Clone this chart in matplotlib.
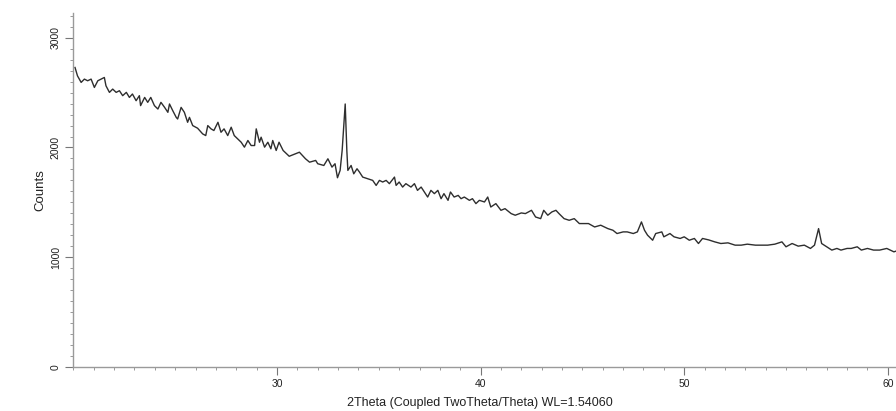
import matplotlib
matplotlib.use("Agg")
import matplotlib.pyplot as plt
from matplotlib.ticker import MultipleLocator

plt.rcParams['font.family'] = ['Liberation Sans', 'DejaVu Sans']

two_theta = [20.08, 20.2, 20.38, 20.54, 20.7, 20.87, 21.03, 21.2, 21.36, 21.52, 21.6, 21.77, 21.93,
             22.1, 22.26, 22.42, 22.6, 22.75, 22.9, 23.08, 23.24, 23.3, 23.5, 23.65, 23.8, 23.98,
             24.15, 24.3, 24.48, 24.64, 24.72, 24.88, 25.05, 25.12, 25.29, 25.45, 25.61, 25.7,
             25.86, 26.1, 26.35, 26.5, 26.6, 26.76, 26.9, 27.1, 27.25, 27.4, 27.58, 27.75, 27.9,
             28.07, 28.24, 28.4, 28.57, 28.73, 28.9, 28.98, 29.14, 29.22, 29.39, 29.55, 29.7,
             29.79, 29.96, 30.1, 30.3, 30.6, 30.9, 31.1, 31.4, 31.6, 31.9, 32.0, 32.3, 32.5, 32.7,
             32.85, 32.97, 33.1, 33.2, 33.35, 33.43, 33.48, 33.64, 33.77, 33.93, 34.05, 34.21,
             34.46, 34.7, 34.87, 35.03, 35.19, 35.36, 35.52, 35.77, 35.85, 36.0, 36.17, 36.33,
             36.58, 36.75, 36.9, 37.08, 37.24, 37.4, 37.56, 37.73, 37.9, 38.06, 38.2, 38.4, 38.52,
             38.7, 38.9, 39.04, 39.2, 39.45, 39.6, 39.77, 39.94, 40.19, 40.35, 40.5,
             40.75, 41.0, 41.2, 41.5,
             41.7, 42.0, 42.2, 42.5, 42.7, 42.95, 43.1, 43.3, 43.5, 43.7, 43.85, 44.1, 44.35, 44.6,
             44.85, 45.1, 45.3, 45.6, 45.9, 46.25, 46.5, 46.7, 47.0, 47.2, 47.5, 47.7, 47.9, 48.05,
             48.2, 48.45, 48.6, 48.9, 49.0, 49.3, 49.5, 49.8, 50.0, 50.25, 50.5, 50.7, 50.9, 51.2,
             51.5, 51.8, 52.15, 52.5, 52.8, 53.1, 53.5, 53.8, 54.1, 54.45, 54.8, 55.0, 55.3, 55.6,
             55.9, 56.2, 56.4, 56.6, 56.75, 57.0, 57.25, 57.5, 57.7, 58.0, 58.2, 58.5, 58.7, 59.0,
             59.3, 59.6, 59.95, 60.3, 60.55]
counts = [2730, 2654, 2594, 2624, 2609, 2624, 2548, 2609, 2624, 2639, 2563, 2503, 2533,
          2503, 2518, 2473, 2503, 2457, 2488, 2427, 2473, 2382, 2457, 2412, 2457, 2382,
          2351, 2412, 2366, 2321, 2397, 2336, 2275, 2260, 2366, 2321, 2230, 2275,
          2200, 2176, 2124, 2109, 2200, 2170, 2155, 2230, 2139, 2170, 2109, 2185, 2109,
          2079, 2048, 2003, 2064, 2018, 2018, 2170, 2048, 2094, 2003, 2048, 1988,
          2064, 1973, 2048, 1973, 1920, 1942, 1957, 1897, 1866, 1882, 1852, 1836, 1897, 1821,
          1852, 1724, 1791, 1973, 2397, 1973, 1791, 1836, 1760, 1806, 1776, 1730,
          1715, 1700, 1654, 1700, 1685, 1700, 1670, 1730, 1654, 1685, 1639, 1670,
          1639, 1670, 1609, 1639, 1594, 1548, 1609, 1579, 1609, 1533, 1579, 1518, 1594,
          1548, 1563, 1533, 1548, 1518, 1533, 1488, 1518, 1503, 1548, 1457,
          1488, 1427, 1442, 1397,
          1382, 1403, 1397, 1427, 1366, 1351, 1427, 1382, 1412, 1427, 1397, 1351, 1336, 1351,
          1306, 1306, 1306, 1275, 1291, 1260, 1245, 1215, 1230, 1230, 1215, 1230, 1321, 1245,
          1200, 1154, 1215, 1230, 1185, 1215, 1185, 1170, 1185, 1154, 1170, 1124, 1170, 1157,
          1139, 1124, 1130, 1109, 1109, 1118, 1109, 1109, 1109, 1118, 1139, 1094, 1124, 1100,
          1109, 1079, 1109, 1260, 1124, 1094, 1064, 1079, 1064, 1079, 1079, 1094, 1064, 1079,
          1064, 1064, 1079, 1048, 1064]

x_major = [30, 40, 50, 60]
y_major = [0, 1000, 2000, 3000]
x_label = "2Theta (Coupled TwoTheta/Theta) WL=1.54060"
y_label = "Counts"

W, H = 896, 411
fig = plt.figure(figsize=(W / 100, H / 100), dpi=100)
left, right, bottom, top = 73.4, 896, 366.7, 13
ax = fig.add_axes([left / W, 1 - bottom / H, (right - left) / W, (bottom - top) / H])

ax.plot(two_theta, counts, color='#2e2e2e', linewidth=1.0)

ax.set_xlim(20, 20 + (right - left) / 20.36)
ax.set_ylim(0, (bottom - top) / 0.1096)

for s in ['top', 'right']:
    ax.spines[s].set_visible(False)
for s in ['left', 'bottom']:
    ax.spines[s].set_color('#9a9a9a')
    ax.spines[s].set_linewidth(1.0)

ax.set_xticks(x_major)
ax.set_xticklabels([str(v) for v in x_major])
ax.xaxis.set_minor_locator(MultipleLocator(1))
ax.set_yticks(y_major)
ax.set_yticklabels([str(v) for v in y_major], rotation=90, va='center')
ax.yaxis.set_minor_locator(MultipleLocator(100))

ax.tick_params(axis='both', which='major', direction='out', length=6, width=0.8,
               color='#777777', labelsize=7.5, labelcolor='#222222', pad=3)
ax.tick_params(axis='both', which='minor', direction='out', length=2.5, width=0.7,
               color='#999999')

ax.set_xlabel(x_label, fontsize=9, color='#222222')
ax.set_ylabel(y_label, fontsize=9.5, color='#222222')
ax.xaxis.set_label_coords((480 - left) / (right - left), (bottom - 397) / (bottom - top))
ax.yaxis.set_label_coords((46 - left) / (right - left), (bottom - 190) / (bottom - top))

fig.savefig("out.png", dpi=100, facecolor='white')
